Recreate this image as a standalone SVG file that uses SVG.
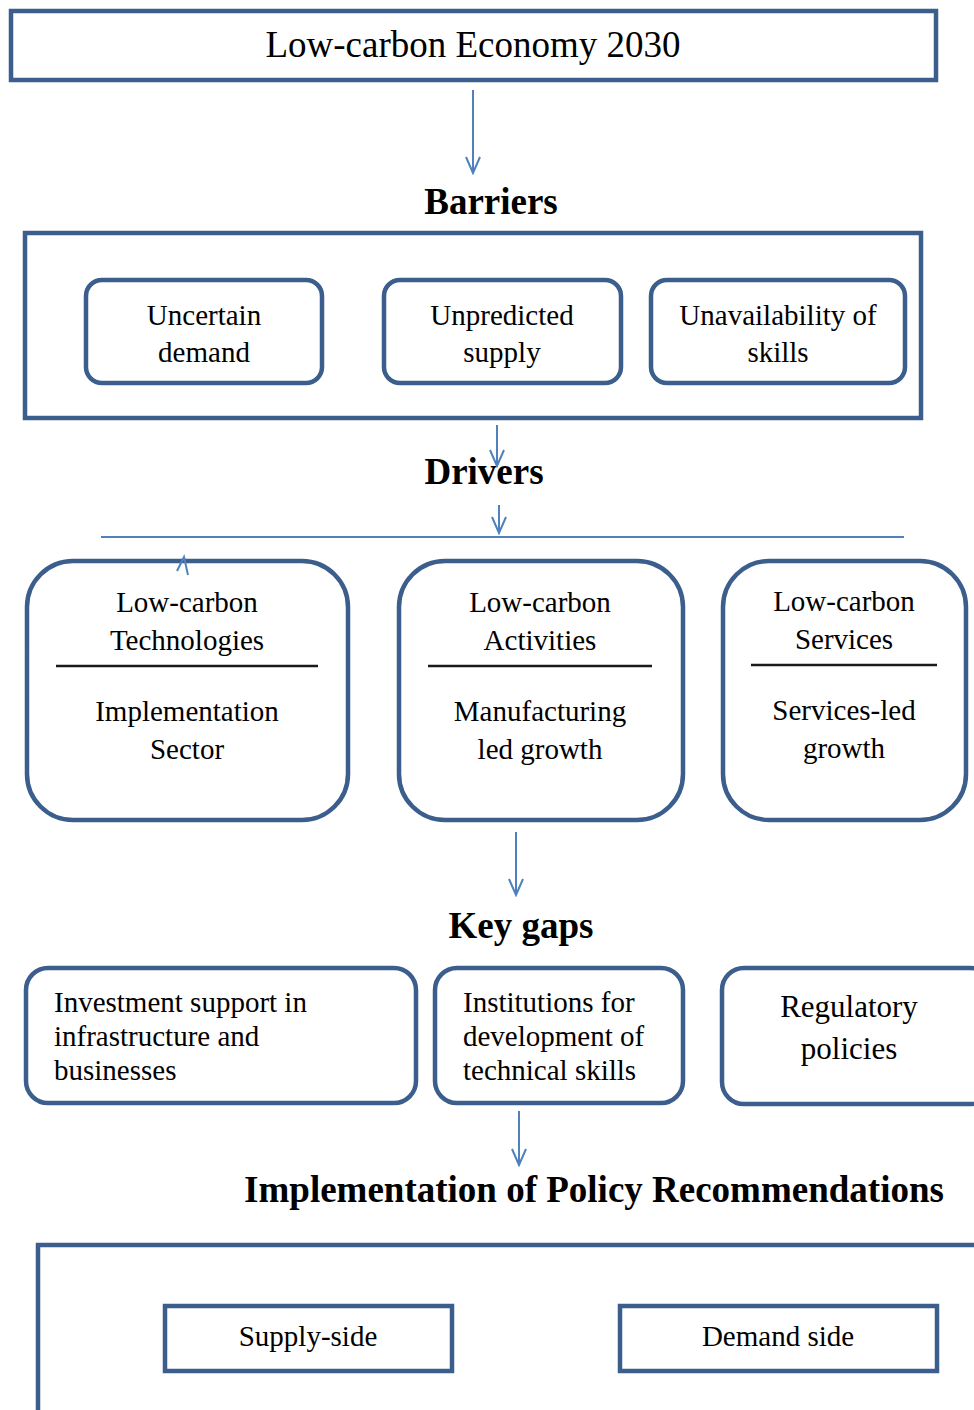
<svg xmlns="http://www.w3.org/2000/svg" width="974" height="1410" viewBox="0 0 974 1410">
  <style>
    .frame { fill: #ffffff; stroke: #3B5E8C; stroke-width: 4.5; }
    .link { fill: none; stroke: #4F81BD; stroke-width: 2; }
    .t { font-family: "Liberation Serif", "Times New Roman", serif; fill: #000000; }
    .c { text-anchor: middle; }
    .h { font-weight: bold; font-size: 37px; }
    .m { font-size: 29px; }
    .rule { stroke: #1a1a1a; stroke-width: 2.5; }
  </style>
  <defs>
    <marker id="vhead" markerUnits="userSpaceOnUse" viewBox="-18 -10 20 20" refX="0" refY="0" markerWidth="20" markerHeight="20" orient="auto">
      <path d="M-16,-7 L0,0 L-16,7" fill="none" stroke="#4F81BD" stroke-width="2"/>
    </marker>
  </defs>
  <rect width="974" height="1410" fill="#ffffff"/>

  <!-- title -->
  <g id="title">
    <rect class="frame" x="11" y="11" width="925" height="69"/>
    <text class="t c" x="473" y="57" font-size="37">Low-carbon Economy 2030</text>
  </g>

  <!-- section headings -->
  <g id="heading-barriers"><text class="t c h" x="491" y="214" font-size="36">Barriers</text></g>
  <g id="heading-drivers"><text class="t c h" x="484" y="484">Drivers</text></g>
  <g id="heading-keygaps"><text class="t c h" x="521" y="938">Key gaps</text></g>
  <g id="heading-implementation"><text class="t c h" x="594" y="1202">Implementation of Policy Recommendations</text></g>

  <!-- barriers -->
  <g id="barriers">
    <rect class="frame" x="25" y="233" width="896" height="185"/>
    <g id="uncertain-demand">
      <rect class="frame" x="86" y="280" width="236" height="103" rx="16"/>
      <text class="t c m" x="204" y="325">Uncertain</text>
      <text class="t c m" x="204" y="362">demand</text>
    </g>
    <g id="unpredicted-supply">
      <rect class="frame" x="384" y="280" width="237" height="103" rx="16"/>
      <text class="t c m" x="502" y="325">Unpredicted</text>
      <text class="t c m" x="502" y="362">supply</text>
    </g>
    <g id="skills-unavailable">
      <rect class="frame" x="651" y="280" width="254" height="103" rx="16"/>
      <text class="t c m" x="778" y="325">Unavailability of</text>
      <text class="t c m" x="778" y="362">skills</text>
    </g>
  </g>

  <!-- drivers -->
  <g id="driver-technologies">
    <rect class="frame" x="27" y="561" width="321" height="259" rx="46"/>
    <text class="t c m" x="187" y="612">Low-carbon</text>
    <text class="t c m" x="187" y="650">Technologies</text>
    <line class="rule" x1="56" y1="666" x2="318" y2="666"/>
    <text class="t c m" x="187" y="721">Implementation</text>
    <text class="t c m" x="187" y="759">Sector</text>
  </g>
  <g id="driver-activities">
    <rect class="frame" x="399" y="561" width="284" height="259" rx="46"/>
    <text class="t c m" x="540" y="612">Low-carbon</text>
    <text class="t c m" x="540" y="650">Activities</text>
    <line class="rule" x1="428" y1="666" x2="652" y2="666"/>
    <text class="t c m" x="540" y="721">Manufacturing</text>
    <text class="t c m" x="540" y="759">led growth</text>
  </g>
  <g id="driver-services">
    <rect class="frame" x="723" y="561" width="243" height="259" rx="46"/>
    <text class="t c m" x="844" y="611">Low-carbon</text>
    <text class="t c m" x="844" y="649">Services</text>
    <line class="rule" x1="751" y1="665" x2="937" y2="665" stroke="#555555" stroke-width="3"/>
    <text class="t c m" x="844" y="720">Services-led</text>
    <text class="t c m" x="844" y="758">growth</text>
  </g>

  <!-- key gaps -->
  <g id="gap-investment">
    <rect class="frame" x="26" y="968" width="390" height="135" rx="22"/>
    <text class="t m" x="54" y="1012">Investment support in</text>
    <text class="t m" x="54" y="1046">infrastructure and</text>
    <text class="t m" x="54" y="1080">businesses</text>
  </g>
  <g id="gap-institutions">
    <rect class="frame" x="435" y="968" width="248" height="135" rx="22"/>
    <text class="t m" x="463" y="1012">Institutions for</text>
    <text class="t m" x="463" y="1046">development of</text>
    <text class="t m" x="463" y="1080">technical skills</text>
  </g>
  <g id="gap-regulatory">
    <rect class="frame" x="722" y="968" width="270" height="136" rx="22"/>
    <text class="t c" x="849" y="1017" font-size="31">Regulatory</text>
    <text class="t c" x="849" y="1059" font-size="31">policies</text>
  </g>

  <!-- policy implementation -->
  <g id="policy">
    <rect class="frame" x="38" y="1245" width="960" height="200" stroke-width="5"/>
    <g id="supply-side">
      <rect class="frame" x="165" y="1306" width="287" height="65"/>
      <text class="t c m" x="308" y="1346">Supply-side</text>
    </g>
    <g id="demand-side">
      <rect class="frame" x="620" y="1306" width="317" height="65"/>
      <text class="t c m" x="778" y="1346">Demand side</text>
    </g>
  </g>

  <!-- connectors -->
  <g id="connectors">
    <line class="link" x1="473" y1="90" x2="473" y2="173" marker-end="url(#vhead)"/>
    <line class="link" x1="497" y1="425" x2="497" y2="466" marker-end="url(#vhead)"/>
    <line class="link" x1="499" y1="505" x2="499" y2="533" marker-end="url(#vhead)"/>
    <line class="link" x1="101" y1="537" x2="904" y2="537"/>
    <path class="link" d="M177,571 L184,557 L188,575"/>
    <line class="link" x1="516" y1="832" x2="516" y2="895" marker-end="url(#vhead)"/>
    <line class="link" x1="519" y1="1111" x2="519" y2="1165" marker-end="url(#vhead)"/>
  </g>
</svg>
